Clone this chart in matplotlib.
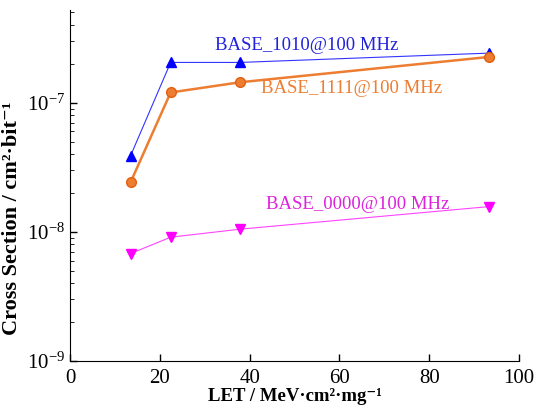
import numpy as np
import matplotlib
matplotlib.use('Agg')
import matplotlib.pyplot as plt

plt.rcParams['font.family'] = ['Liberation Serif', 'DejaVu Serif']
plt.rcParams['mathtext.fontset'] = 'stix'

# LET values [MeV cm^2/mg]
let = [13.5, 22.4, 37.9, 93.3]
# cross section [cm^2/bit]
cs_1010 = [3.9e-8, 2.05e-7, 2.05e-7, 2.42e-7]
cs_1111 = [2.43e-8, 1.2e-7, 1.44e-7, 2.26e-7]
cs_0000 = [6.8e-9, 9.1e-9, 1.05e-8, 1.57e-8]

fig = plt.figure(figsize=(5.43, 4.08), dpi=100)
ax = fig.add_axes([0.129, 0.115, 0.827, 0.86])

ax.plot(let, cs_1010, color='#3333ff', linewidth=0.8, marker='^', markersize=7,
        markerfacecolor='#0000ff', markeredgecolor='#0000ff')
ax.plot(let, cs_1111, color='#ed7d31', linewidth=1.8, marker='o', markersize=7,
        markerfacecolor='#ed7d31', markeredgecolor='#e06010')
ax.plot(let, cs_0000, color='#ff44ff', linewidth=0.8, marker='v', markersize=7,
        markerfacecolor='#ff00ff', markeredgecolor='#ff00ff')

ax.text(52.8, 2.75e-7, 'BASE_1010@100 MHz', color='#2222dd', fontsize=13.5, ha='center', va='center')
ax.text(62.8, 1.28e-7, 'BASE_1111@100 MHz', color='#ed7d31', fontsize=13.5, ha='center', va='center')
ax.text(64.1, 1.62e-8, 'BASE_0000@100 MHz', color='#dd22dd', fontsize=13.5, ha='center', va='center')

ax.set_yscale('log')
ax.set_xlim(0, 100)
ax.set_ylim(1e-9, 5.2e-7)
ax.set_xticks([0, 20, 40, 60, 80, 100])

ax.spines['top'].set_visible(False)
ax.spines['right'].set_visible(False)
ax.tick_params(direction='in', labelsize=15, length=5, width=1)
ax.tick_params(which='minor', direction='in', length=3)
ax.tick_params(axis='x', pad=6)

ax.set_xlabel('LET / MeV·cm²·mg⁻¹', fontsize=13.5, fontweight='bold', labelpad=0)
ax.set_ylabel('Cross Section / cm²·bit⁻¹', fontsize=16, fontweight='bold')
ax.yaxis.set_label_coords(-0.107, 0.407)

plt.savefig('out.png', dpi=100)
